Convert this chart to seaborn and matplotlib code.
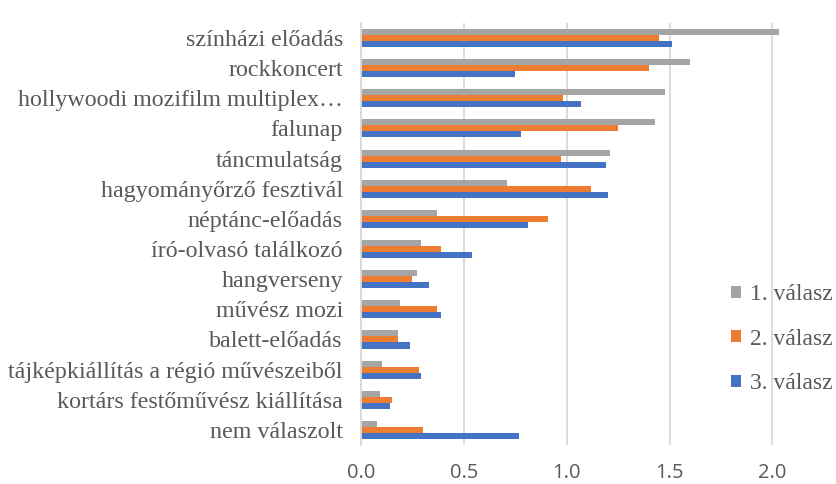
import pandas as pd
import seaborn as sns
import matplotlib.pyplot as plt

categories = ['színházi előadás', 'rockkoncert', 'hollywoodi mozifilm multiplex…', 'falunap',
              'táncmulatság', 'hagyományőrző fesztivál', 'néptánc-előadás', 'író-olvasó találkozó',
              'hangverseny', 'művész mozi', 'balett-előadás', 'tájképkiállítás a régió művészeiből',
              'kortárs festőművész kiállítása', 'nem válaszolt']
series = ['1. válasz', '2. válasz', '3. válasz']
valasz1 = [2.03, 1.60, 1.48, 1.43, 1.21, 0.71, 0.37, 0.29, 0.27, 0.19, 0.18, 0.10, 0.09, 0.08]
valasz2 = [1.45, 1.40, 0.98, 1.25, 0.97, 1.12, 0.91, 0.39, 0.25, 0.37, 0.18, 0.28, 0.15, 0.30]
valasz3 = [1.51, 0.75, 1.07, 0.78, 1.19, 1.20, 0.81, 0.54, 0.33, 0.39, 0.24, 0.29, 0.14, 0.77]
colors = ['#A5A5A5', '#ED7D31', '#4472C4']

df = pd.DataFrame({
    'kategoria': categories * 3,
    'valasz': [s for s in series for _ in categories],
    'ertek': valasz1 + valasz2 + valasz3,
})

sns.set_style('white')
plt.rcParams['font.family'] = ['Liberation Serif', 'DejaVu Serif']

fig = plt.figure(figsize=(8.36, 4.84), dpi=100)
ax = fig.add_axes([0.4318, 0.0806, 0.507, 0.872])
sns.barplot(data=df, x='ertek', y='kategoria', hue='valasz', order=categories,
            hue_order=series, palette=colors, saturation=1, width=0.6,
            orient='h', linewidth=0, ax=ax)

ax.set_xlim(0, 2.06)
ax.set_xticks([0, 0.5, 1.0, 1.5, 2.0])
ax.set_xticklabels(['0.0', '0.5', '1.0', '1.5', '2.0'], family='Open Sans', fontsize=14.5, color='#595959')
ax.tick_params(axis='x', length=0, pad=13)
ax.tick_params(axis='y', length=0, pad=13, labelsize=17.3, labelcolor='#595959')
ax.set_xlabel('')
ax.set_ylabel('')
ax.grid(axis='x', color='#D9D9D9', linewidth=1.3)
ax.set_axisbelow(True)
for side in ['top', 'right', 'bottom']:
    ax.spines[side].set_visible(False)
ax.spines['left'].set_color('#D9D9D9')
ax.spines['left'].set_linewidth(1.3)

handles, labels = ax.get_legend_handles_labels()
ax.legend(handles, labels, loc='upper left', bbox_to_anchor=(0.874, 0.413),
          bbox_transform=fig.transFigure, frameon=False, fontsize=17,
          labelcolor='#595959', handlelength=0.42, handleheight=0.42,
          handletextpad=0.4, labelspacing=1.0, borderpad=0, borderaxespad=0)

fig.savefig('out.png', dpi=100)
